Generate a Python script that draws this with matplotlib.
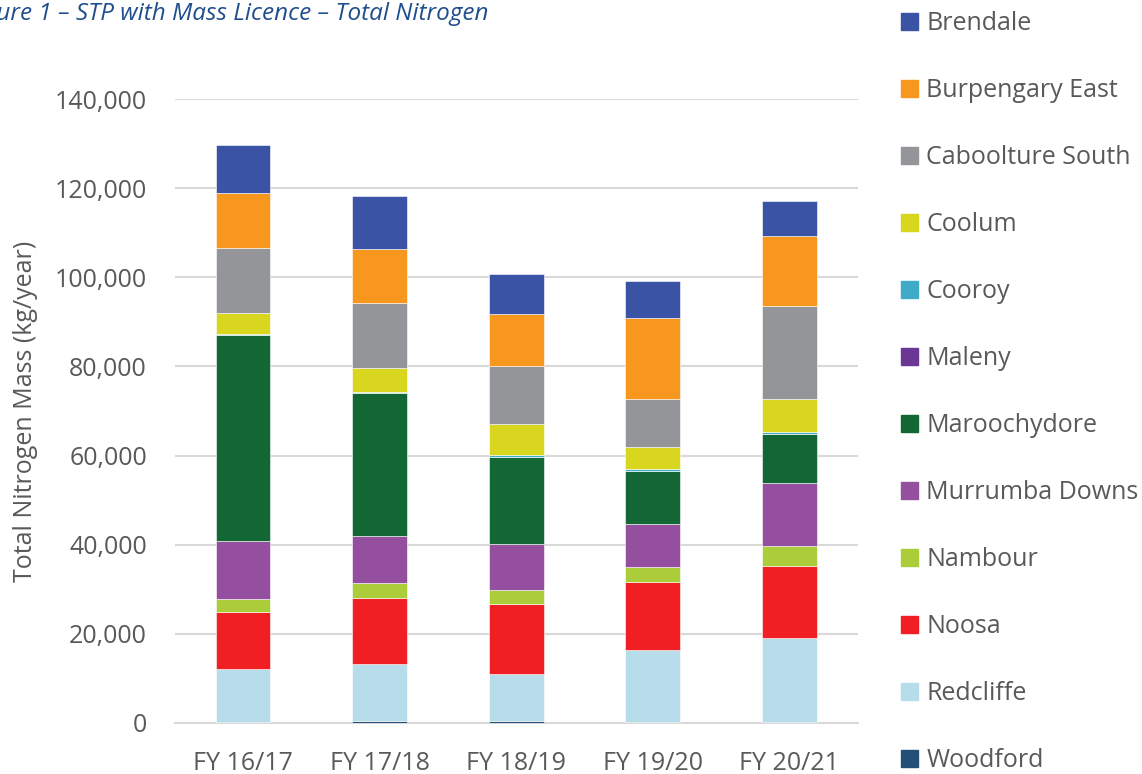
import matplotlib
matplotlib.use("Agg")
import matplotlib.pyplot as plt
import matplotlib.patches as mpatches
from matplotlib.ticker import FuncFormatter

plt.rcParams['font.family'] = ['Open Sans', 'DejaVu Sans']

years = ['FY 16/17', 'FY 17/18', 'FY 18/19', 'FY 19/20', 'FY 20/21']

# kg/year, stacked bottom to top in this order
plants = ['Woodford', 'Redcliffe', 'Noosa', 'Nambour', 'Murrumba Downs', 'Maroochydore',
          'Maleny', 'Cooroy', 'Coolum', 'Caboolture South', 'Burpengary East', 'Brendale']

woodford = [200, 400, 400, 200, 200]
redcliffe = [12000, 12800, 10500, 16200, 18900]
noosa = [12600, 14900, 15800, 15300, 16200]
nambour = [3000, 3400, 3100, 3400, 4400]
murrumba = [13000, 10400, 10400, 9500, 14100]
maroochydore = [46200, 32100, 19500, 12000, 11000]
maleny = [0, 0, 0, 0, 0]
cooroy = [300, 300, 400, 400, 500]
coolum = [4700, 5400, 6900, 4900, 7300]
caboolture = [14600, 14600, 13100, 10700, 21000]
burpengary = [12300, 12000, 11600, 18200, 15700]
brendale = [10900, 12000, 9000, 8400, 7800]

series = [woodford, redcliffe, noosa, nambour, murrumba, maroochydore,
          maleny, cooroy, coolum, caboolture, burpengary, brendale]
colors = ['#234E76', '#B7DDEA', '#EF1F24', '#ABCD39', '#954F9F', '#136734',
          '#6C3694', '#3FABC9', '#D9D620', '#939598', '#F7971E', '#3A53A4']

fig = plt.figure(figsize=(11.42, 7.74), dpi=100)
ax = fig.add_axes([0.153, 0.066, 0.598, 0.806])

x = list(range(len(years)))
bottom = [0] * len(years)
for vals, col in zip(series, colors):
    ax.bar(x, vals, width=0.4, bottom=bottom, color=col, edgecolor='white', linewidth=0.4, zorder=3)
    bottom = [b + v for b, v in zip(bottom, vals)]

ax.set_xlim(-0.5, 4.5)
ax.set_ylim(0, 140000)
ax.set_yticks(range(0, 140001, 20000))
ax.yaxis.set_major_formatter(FuncFormatter(lambda v, p: f'{int(v):,}'))
ax.set_xticks(x)
ax.set_xticklabels(years)
ax.grid(axis='y', color='#d9d9d9', linewidth=1.5, zorder=0)
for s in ['top', 'right', 'left']:
    ax.spines[s].set_visible(False)
ax.spines['bottom'].set_color('#d9d9d9')
ax.spines['bottom'].set_linewidth(1.5)
ax.tick_params(axis='both', length=0, labelsize=18, labelcolor='#595959')
ax.tick_params(axis='x', pad=20)
ax.tick_params(axis='y', pad=20)
ax.set_ylabel('Total Nitrogen Mass (kg/year)', fontsize=18, color='#595959', labelpad=12)

# the title runs off the left edge in the original figure too
fig.text(0.428, 0.997, 'Figure 1 \u2013 STP with Mass Licence \u2013 Total Nitrogen', ha='right', va='top',
         fontsize=17.5, style='italic', color='#1F4E8C')

handles = [mpatches.Patch(color=c, label=n) for n, c in zip(plants, colors)][::-1]
fig.legend(handles=handles, loc='upper left', bbox_to_anchor=(0.774, 1.008), frameon=False,
           fontsize=18, labelcolor='#595959', handlelength=0.65, handleheight=0.65,
           handletextpad=0.35, labelspacing=1.68, borderaxespad=0.3)

fig.savefig('out.png', dpi=100)
